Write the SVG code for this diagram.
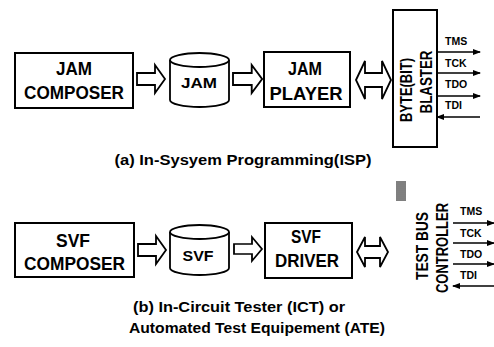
<svg xmlns="http://www.w3.org/2000/svg" width="494" height="347" viewBox="0 0 494 347">
<defs>
<style>
.box{fill:#fff;stroke:#000;stroke-width:2}
.cyl{fill:#fff;stroke:#000;stroke-width:1.8}
.arr{fill:#fff;stroke:#000;stroke-width:1.8;stroke-linejoin:miter}
.sig{stroke:#000;stroke-width:1.6;fill:none}
.t{font-family:"Liberation Sans",Arial,sans-serif;font-weight:bold;fill:#000}
.big{font-size:19px;text-anchor:middle}
.mid{font-size:15.5px;text-anchor:middle}
.rot{font-size:17px;text-anchor:middle}
.lab{font-size:10.5px}
.cap{font-size:14px}
</style>
<marker id="ah" markerWidth="8" markerHeight="6" refX="7" refY="3" orient="auto" markerUnits="userSpaceOnUse">
<path d="M0,0 L8,3 L0,6 Z" fill="#000"/>
</marker>
<path id="rarrow" d="M0,-6 H18 V-14 L28,0 L18,14 V6 H0 Z"/>
</defs>

<g id="connectors">
<use href="#rarrow" class="arr" transform="translate(137,79)"/>
<use href="#rarrow" class="arr" transform="translate(233,79) scale(1.04,1)"/>
<path class="arr" d="M356,80 L365,61 V73 H382 V61 L391,80 L382,99 V87 H365 V99 Z"/>
<use href="#rarrow" class="arr" transform="translate(138,250)"/>
<use href="#rarrow" class="arr" transform="translate(234,249) scale(1.0,0.85)"/>
<path class="arr" d="M357,252 L365,237 V246 H380 V237 L388,252 L380,267 V258 H365 V267 Z"/>
<line class="sig" x1="437" y1="52" x2="480" y2="52" marker-end="url(#ah)"/>
<line class="sig" x1="437" y1="73" x2="480" y2="73" marker-end="url(#ah)"/>
<line class="sig" x1="437" y1="96" x2="480" y2="96" marker-end="url(#ah)"/>
<line class="sig" x1="480" y1="117" x2="437" y2="117" marker-end="url(#ah)"/>
<line class="sig" x1="453" y1="223" x2="494" y2="223" marker-end="url(#ah)"/>
<line class="sig" x1="453" y1="243" x2="494" y2="243" marker-end="url(#ah)"/>
<line class="sig" x1="453" y1="264" x2="494" y2="264" marker-end="url(#ah)"/>
<line class="sig" x1="494" y1="286" x2="453" y2="286" marker-end="url(#ah)"/>
</g>

<g id="jam-composer">
<rect class="box" x="15" y="53" width="118" height="55"/>
<text class="t big" x="74" y="75" textLength="36" lengthAdjust="spacingAndGlyphs">JAM</text>
<text class="t big" x="74" y="99" textLength="100" lengthAdjust="spacingAndGlyphs">COMPOSER</text>
</g>

<g id="jam-file">
<path class="cyl" d="M170,60 A29.5,7 0 0 1 229,60 V100 A29.5,7 0 0 1 170,100 Z"/>
<path class="cyl" d="M170,60 A29.5,7 0 0 0 229,60"/>
<text class="t mid" x="199" y="88" textLength="36" lengthAdjust="spacingAndGlyphs">JAM</text>
</g>

<g id="jam-player">
<rect class="box" x="264" y="52" width="86" height="55"/>
<text class="t big" x="305" y="75" textLength="34" lengthAdjust="spacingAndGlyphs">JAM</text>
<text class="t big" x="306" y="100" textLength="73" lengthAdjust="spacingAndGlyphs">PLAYER</text>
</g>

<g id="blaster">
<rect class="box" x="393" y="10" width="44" height="137"/>
<text class="t rot" transform="translate(412,90) rotate(-90)" textLength="64" lengthAdjust="spacingAndGlyphs">BYTE(BIT)</text>
<text class="t rot" transform="translate(432,82) rotate(-90)" textLength="63" lengthAdjust="spacingAndGlyphs">BLASTER</text>
<text class="t lab" x="445" y="45">TMS</text>
<text class="t lab" x="445" y="67">TCK</text>
<text class="t lab" x="445" y="88">TDO</text>
<text class="t lab" x="445" y="109">TDI</text>
</g>

<text class="t cap" x="243" y="165" text-anchor="middle" textLength="257" lengthAdjust="spacingAndGlyphs">(a) In-Sysyem Programming(ISP)</text>

<g id="svf-composer">
<rect class="box" x="15" y="223" width="119" height="54"/>
<text class="t big" x="73" y="247" textLength="34" lengthAdjust="spacingAndGlyphs">SVF</text>
<text class="t big" x="74.5" y="270" textLength="101" lengthAdjust="spacingAndGlyphs">COMPOSER</text>
</g>

<g id="svf-file">
<path class="cyl" d="M170,232 A29.5,7 0 0 1 229,232 V268 A29.5,7 0 0 1 170,268 Z"/>
<path class="cyl" d="M170,232 A29.5,7 0 0 0 229,232"/>
<text class="t mid" x="198" y="261" textLength="31" lengthAdjust="spacingAndGlyphs">SVF</text>
</g>

<g id="svf-driver">
<rect class="box" x="265" y="223" width="87" height="55"/>
<text class="t big" x="306" y="243" textLength="30" lengthAdjust="spacingAndGlyphs">SVF</text>
<text class="t big" x="307" y="267" textLength="64" lengthAdjust="spacingAndGlyphs">DRIVER</text>
</g>

<g id="test-bus-controller">
<g stroke="#000" stroke-width="1">
<line x1="396" y1="182" x2="406" y2="182"/><line x1="396" y1="184" x2="406" y2="184"/>
<line x1="396" y1="186" x2="406" y2="186"/><line x1="396" y1="188" x2="406" y2="188"/>
<line x1="396" y1="190" x2="406" y2="190"/><line x1="396" y1="192" x2="406" y2="192"/>
<line x1="396" y1="194" x2="406" y2="194"/><line x1="396" y1="196" x2="406" y2="196"/>
<line x1="396" y1="198" x2="406" y2="198"/><line x1="396" y1="200" x2="406" y2="200"/>
</g>
<text class="t rot" transform="translate(428,246) rotate(-90)" textLength="68" lengthAdjust="spacingAndGlyphs">TEST BUS</text>
<text class="t rot" transform="translate(448,248) rotate(-90)" textLength="90" lengthAdjust="spacingAndGlyphs">CONTROLLER</text>
<text class="t lab" x="460" y="215">TMS</text>
<text class="t lab" x="460" y="237">TCK</text>
<text class="t lab" x="460" y="258">TDO</text>
<text class="t lab" x="460" y="279">TDI</text>
</g>

<text class="t cap" x="239" y="312" text-anchor="middle" textLength="212" lengthAdjust="spacingAndGlyphs">(b) In-Circuit Tester (ICT) or</text>
<text class="t cap" x="257" y="333" text-anchor="middle" textLength="256" lengthAdjust="spacingAndGlyphs">Automated Test Equipement (ATE)</text>
</svg>
